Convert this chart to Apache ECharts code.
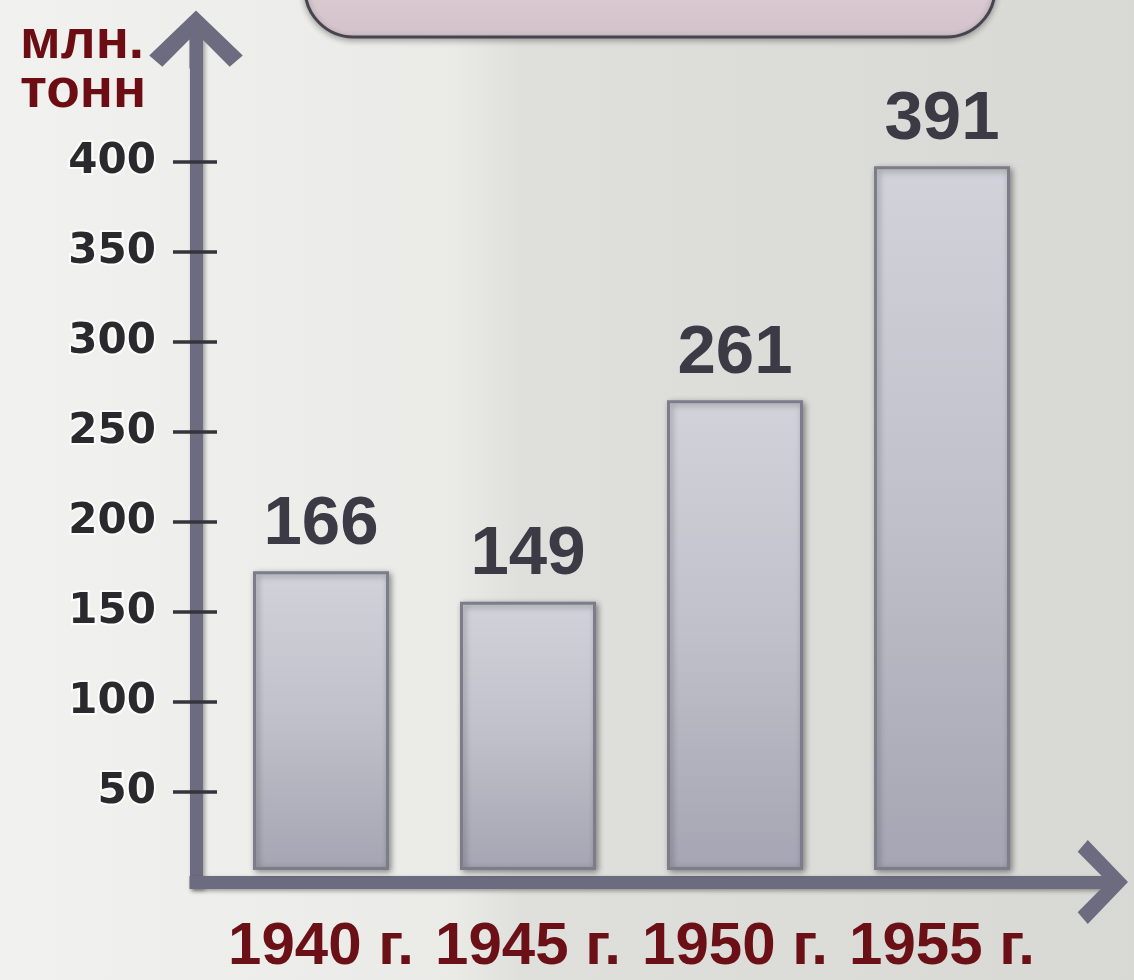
<!DOCTYPE html>
<html><head><meta charset="utf-8">
<script src="https://cdn.jsdelivr.net/npm/echarts@6/dist/echarts.min.js"></script>
<style>html,body{margin:0;padding:0;}#c{width:1134px;height:980px;}</style>
</head><body><div id="c"></div>
<script>
const categories = ['1940 г.', '1945 г.', '1950 г.', '1955 г.'];
const production = [166, 149, 261, 391];
const yTickValues = [50, 100, 150, 200, 250, 300, 350, 400];
const yAxisTitle = 'млн.\nтонн';
const yMax = 468;

const axisColor = '#6c6b7f';
const chevron = 'path://M0,48 L50,0 L100,48 L86,60 L57,31 L57,62 L43,62 L43,31 L14,60 Z';
const axisShadow = {shadowBlur: 4, shadowColor: 'rgba(0,0,0,0.35)', shadowOffsetX: 2, shadowOffsetY: 2};

const chart = echarts.init(document.getElementById('c'), null, {renderer: 'canvas'});
chart.setOption({
  animation: false,
  backgroundColor: {
    type: 'linear', x: 0, y: 0, x2: 1, y2: 0,
    colorStops: [
      {offset: 0, color: '#f1f1ef'},
      {offset: 0.4, color: '#eaeae7'},
      {offset: 0.46, color: '#dfdfdb'},
      {offset: 1, color: '#d8d8d4'}
    ]
  },
  title: {
    text: yAxisTitle,
    left: 15, top: 13,
    textStyle: {
      fontFamily: 'Liberation Sans', fontWeight: 'bold', fontSize: 55,
      lineHeight: 49, color: '#6b0d12'
    }
  },
  graphic: [{
    type: 'rect',
    shape: {x: 305, y: -60, width: 690, height: 97, r: 55},
    style: {
      fill: {type: 'linear', x: 0, y: 0, x2: 0, y2: 1,
        colorStops: [{offset: 0, color: '#e2d3d9'}, {offset: 1, color: '#d3c2ca'}]},
      stroke: '#45444f', lineWidth: 3,
      shadowBlur: 6, shadowColor: 'rgba(0,0,0,0.3)', shadowOffsetY: 2
    },
    z: 10
  }],
  grid: [
    {left: 196, right: 32, top: 882 - yMax * 1.8, bottom: 98},
    {left: 217.5, right: 88.5, top: 870 - yMax * 1.8, bottom: 110},
    {left: 196, right: 32, top: 882 - yMax * 1.8, bottom: 98}
  ],
  xAxis: [
    {
      gridIndex: 0, type: 'value', min: 0, max: 1,
      axisLine: {show: true, symbol: ['none', chevron], symbolSize: [92, 52],
        lineStyle: Object.assign({color: axisColor, width: 13, cap: 'square'}, axisShadow)},
      axisTick: {show: false}, axisLabel: {show: false}, splitLine: {show: false}
    },
    {
      gridIndex: 1, type: 'category', data: categories,
      axisLine: {show: false}, axisTick: {show: false}, splitLine: {show: false},
      axisLabel: {
        interval: 0, margin: 47,
        fontFamily: 'Liberation Sans', fontWeight: 'bold', fontSize: 60,
        color: '#6a1016'
      }
    },
    {
      gridIndex: 2, type: 'value', min: 0, max: 1, show: false
    }
  ],
  yAxis: [
    {
      gridIndex: 0, type: 'value', min: 0, max: yMax,
      axisLine: {show: true, symbol: ['none', chevron], symbolSize: [96, 58],
        lineStyle: Object.assign({color: axisColor, width: 13, cap: 'square'}, axisShadow)},
      axisTick: {show: true, customValues: yTickValues, length: 23,
        lineStyle: {color: '#34343c', width: 3.5}},
      axisLabel: {
        customValues: yTickValues, margin: 40,
        fontFamily: 'DejaVu Sans', fontWeight: 'bold', fontSize: 42,
        color: '#2a2a2e', textBorderColor: 'rgba(255,255,255,0.85)', textBorderWidth: 4
      },
      splitLine: {show: false}
    },
    {
      gridIndex: 1, type: 'value', min: 0, max: yMax, show: false
    },
    {
      gridIndex: 2, type: 'value', min: 0, max: yMax,
      axisLine: {show: false},
      axisTick: {show: true, inside: true, customValues: yTickValues, length: 21,
        lineStyle: {color: '#34343c', width: 3.5}},
      axisLabel: {show: false}, splitLine: {show: false}
    }
  ],
  series: [{
    type: 'bar',
    xAxisIndex: 1, yAxisIndex: 1,
    data: production,
    barWidth: 136,
    itemStyle: {
      color: {type: 'linear', x: 0, y: 0, x2: 0, y2: 1,
        colorStops: [
          {offset: 0, color: '#d2d2da'},
          {offset: 0.5, color: '#c0c0ca'},
          {offset: 1, color: '#a5a5b3'}
        ]},
      borderColor: '#7d7c8b', borderWidth: 3,
      shadowBlur: 6, shadowColor: 'rgba(0,0,0,0.35)', shadowOffsetX: 2, shadowOffsetY: 2
    },
    label: {
      show: true, position: 'top', distance: 12,
      fontFamily: 'Liberation Sans', fontWeight: 'bold', fontSize: 69,
      color: '#3b3a45'
    }
  }]
});
</script>
</body></html>
